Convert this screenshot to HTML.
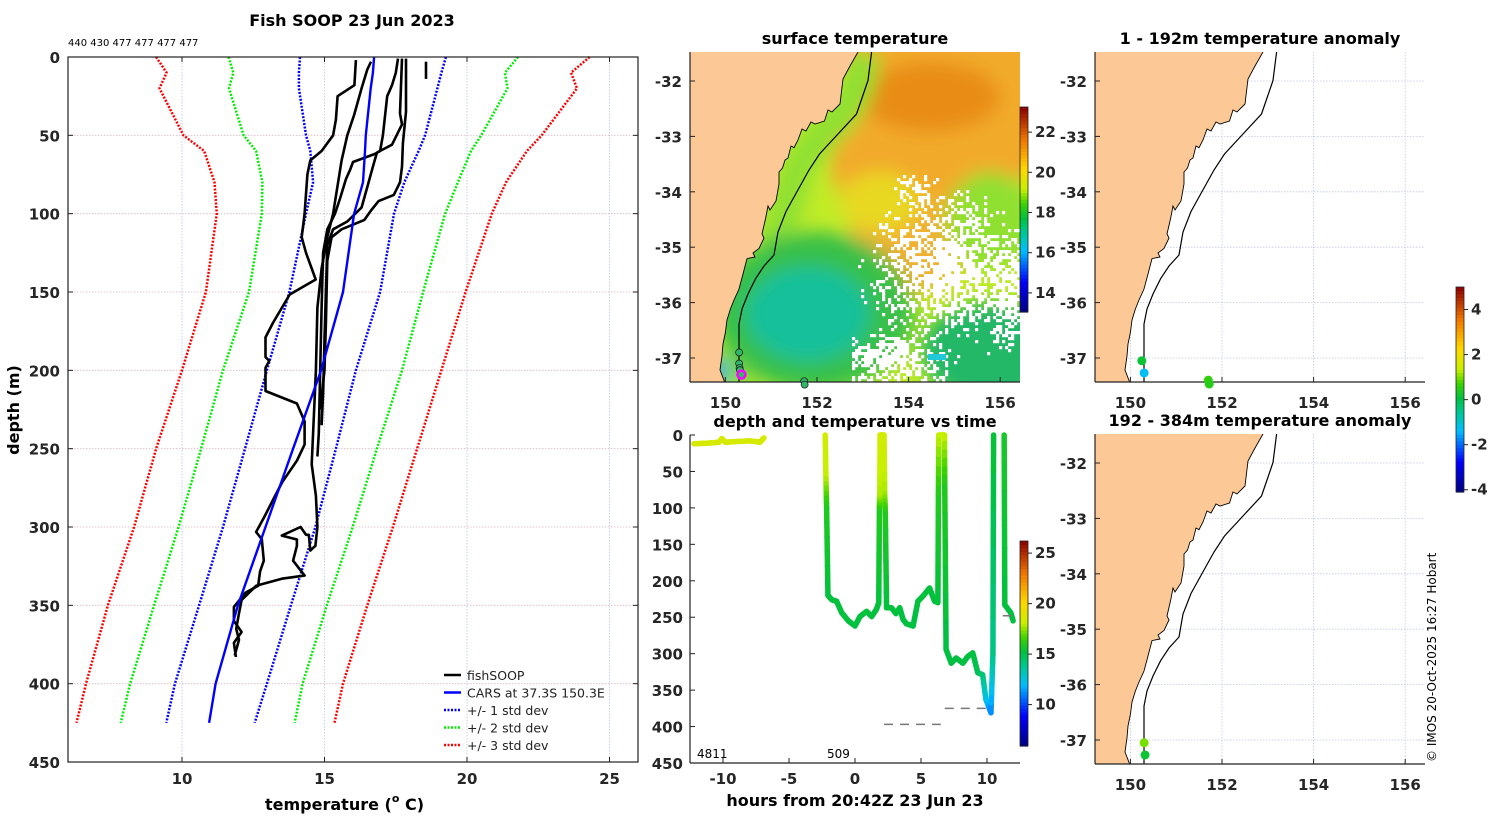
<!DOCTYPE html>
<html><head><meta charset="utf-8"><style>
html,body{margin:0;padding:0;background:#fff;}
svg{display:block;font-family:"DejaVu Sans","Liberation Sans",sans-serif;}
.tk{font-weight:bold;font-size:15px;fill:#262626;}
.ttl{font-weight:bold;font-size:16px;fill:#000;}
</style></head><body>
<svg id="fig" width="1500" height="820" viewBox="0 0 1500 820" xmlns="http://www.w3.org/2000/svg">
<defs>
<filter id="blur" x="-20%" y="-20%" width="140%" height="140%"><feGaussianBlur stdDeviation="9"/></filter>
<clipPath id="mapclip"><rect x="0" y="0" width="330" height="330"/></clipPath>
</defs>
</svg>
<script>
// ---------- profile chart data ----------
const stdDepths = [0,10,20,50,60,80,100,150,200,250,300,350,400,425];
const carsMean  = [16.74,16.7,16.62,16.45,16.42,16.35,16.04,15.65,14.88,13.9,12.93,11.96,11.18,10.95];
const std1Lo = [14.14,14.1,14.1,14.35,14.5,14.6,14.35,13.77,12.98,12.21,11.44,10.6,9.75,9.45];
const std1Hi = [19.26,19.1,18.96,18.53,18.3,17.8,17.44,16.95,16.1,15.4,14.68,13.82,12.98,12.55];
const std2Lo = [11.63,11.8,11.65,12.16,12.6,12.82,12.8,12.35,11.44,10.67,9.88,9.02,8.18,7.85];
const std2Hi = [21.79,21.33,21.42,20.5,20.14,19.68,19.23,18.46,17.72,16.84,15.99,15.08,14.23,13.95];
const std3Lo = [9.09,9.46,9.21,10.05,10.78,11.14,11.22,10.84,10.0,9.09,8.32,7.4,6.63,6.3];
const std3Hi = [24.3,23.65,23.86,22.62,22.1,21.37,20.87,19.95,19.1,18.25,17.4,16.5,15.65,15.35];
const fishA = [[16.1,2],[16.05,18],[15.46,25],[15.4,40],[15.3,50],[14.9,60],[14.5,66],[14.4,75],[14.3,100],[14.2,115],[14.35,125],[14.69,142],[13.78,151.6],[13.19,169.8],[12.93,179],[12.93,191.5],[13.06,193.9],[12.93,198.4],[12.93,213.2],[14.03,221.2],[14.3,232.6],[14.3,247.4],[14.03,257.7],[13.52,271.3],[13.19,282.8],[12.87,294.2],[12.6,303.2],[12.8,307.8],[12.87,321.5],[12.74,328.3],[12.67,337.5],[12.22,342],[11.82,351],[11.82,360],[12.09,367],[11.82,374],[11.89,383]];
const fishB = [[16.63,3],[16.5,8],[16.3,20],[16.04,37],[15.8,50],[15.6,66],[15.3,100],[15.1,115],[14.9,135],[14.75,160],[14.7,200],[14.6,240],[14.55,260],[14.7,280],[14.75,300],[14.68,312],[14.5,315],[14.45,305],[14.35,305],[14.16,300],[13.5,305.5],[14.03,308],[14.03,312],[13.9,321.5],[14.3,331],[13.5,333],[12.6,337.5],[12.09,346.6],[12.0,355],[11.9,365],[12.0,372],[11.85,382]];
const fishC = [[17.58,1],[17.5,10],[17.37,18],[17.2,25],[17.05,50],[16.95,60],[16.75,62],[16.0,67],[15.9,72],[15.75,78],[15.55,90],[15.37,100],[15.1,110],[14.95,125],[14.9,160],[14.85,200],[14.8,240],[14.75,255]];
const fishD = [[17.72,1],[17.68,20],[17.65,36],[17.72,43],[17.37,56],[16.84,61],[16.7,70],[16.5,83],[16.3,96],[15.8,105],[15.3,110],[15.1,120],[15.05,150],[15.0,180],[14.95,215],[14.9,235]];
const fishE = [[17.86,1],[17.86,35],[17.75,55],[17.72,70],[17.65,80],[17.43,88],[16.9,92],[16.63,98],[16.4,104],[15.6,110],[15.25,115],[15.1,130],[15.05,170],[15.0,200],[14.85,225]];
const fishF = [[18.56,3],[18.56,14]];
const xTicksProf = [10,15,20,25];
const yTicksProf = [0,50,100,150,200,250,300,350,400,450];

// ---------- time plot data ----------
const surfHours = [-12.2,-11.5,-11,-10.3,-10.1,-9.8,-9,-8,-7.5,-7.2,-6.9];
const surfDepth = [12,11.5,11,10,5,10,9,8,9,10,4];
const surfTemp  = [18.6,18.6,18.6,18.6,18.6,18.6,18.6,18.6,18.6,18.6,18.6];
const profHours = [-2.26,-2.2,-2.15,-2.05,-1.76,-1.4,-1.0,-0.5,0,0.38,0.88,1.26,1.63,1.8,1.85,1.88,1.9,2.2,2.25,2.3,2.39,2.76,3.1,3.39,3.64,3.9,4.4,4.77,5.15,5.65,6.03,6.28,6.32,6.35,6.78,6.8,6.9,7.29,7.66,8.17,8.54,8.92,9.3,9.67,9.92,10.3,10.45,10.5];
const profDepth = [0,60,100,220,226,228,244,255,262,249,242,249,239,230,100,80,0,0,80,110,237,237,245,237,253,259,262,228,221,210,228,230,80,0,0,70,294,313,306,313,304,299,326,329,363,381,300,0];
const profTemp  = [18.4,18,16,15.3,15.3,15.3,15.3,15.3,15.2,15.3,15.3,15.3,15.3,15.3,16,17.8,18.5,18.5,17.8,16,15.3,15.3,15.3,15.3,15.2,15.2,15.2,15.3,15.3,15.3,15.3,15.3,16,18,18.2,16,15.2,15.2,15.2,15.2,15.2,15.2,15,14.5,12.5,11,14,15.5];
const lastHours = [11.3,11.35,11.8,11.98];
const lastDepth = [0,233,244,255];
const lastTemp  = [15.8,15.3,15.2,15.3];
const xTicksTime = [-10,-5,0,5,10];
const yTicksTime = [0,50,100,150,200,250,300,350,400,450];

// ---------- map data ----------
const lonTicks = [150,152,154,156];
const latTicks = [-32,-33,-34,-35,-36,-37];
const anomLon1 = [150.25,150.3,151.7,151.72];
const anomLat1 = [-37.05,-37.27,-37.4,-37.47];
const anomVal1 = [0.2,-1.3,0.6,0.5];
const anomLon2 = [150.3,150.32];
const anomLat2 = [-37.05,-37.27];
const anomVal2 = [1.0,0.2];
const trackLon = [150.3,150.3,150.31,150.32,150.35,151.72,151.73];
const trackLat = [-36.9,-37.1,-37.18,-37.22,-37.3,-37.42,-37.48];

const NS='http://www.w3.org/2000/svg';
const svg=document.getElementById('fig');
function el(tag,attrs,parent){const e=document.createElementNS(NS,tag);for(const k in attrs)e.setAttribute(k,attrs[k]);(parent||svg).appendChild(e);return e;}
function txt(s,x,y,attrs,parent){const t=el('text',Object.assign({x:x,y:y},attrs),parent);t.textContent=s;return t;}

const cstops=[[0,[0,0,127]],[0.15,[0,0,255]],[0.3,[0,190,255]],[0.38,[0,200,160]],[0.46,[0,192,64]],[0.53,[60,210,0]],[0.6,[200,240,0]],[0.7,[255,215,0]],[0.84,[240,120,0]],[1,[140,0,0]]];
function cmap(t){t=Math.max(0,Math.min(1,t));for(let i=1;i<cstops.length;i++){if(t<=cstops[i][0]){const a=cstops[i-1],b=cstops[i];const f=(t-a[0])/(b[0]-a[0]);const c=a[1].map((v,j)=>Math.round(v+(b[1][j]-v)*f));return 'rgb('+c.join(',')+')';}}return 'rgb(140,0,0)';}
function colorbar(x,y,w,h,vmin,vmax,ticks,name){
  const g=el('g',{});
  
  
  const n=60;
  for(let i=0;i<n;i++){el('rect',{x:x,y:y+h-(i+1)*h/n,width:w,height:h/n+0.6,fill:cmap((i+0.5)/n)},g);}
  el('rect',{x:x,y:y,width:w,height:h,fill:'none',stroke:'#222','stroke-width':0.8},g);
  ticks.forEach(v=>{const yy=y+h-(v-vmin)/(vmax-vmin)*h;el('line',{x1:x+w,x2:x+w+4,y1:yy,y2:yy,stroke:'#222'},g);txt(String(v),x+w+7,yy+5,{'class':'tk','font-size':'13'},g);});
}

// ================= PROFILE CHART =================
const P={x0:68,x1:638,y0:57,y1:762,tmin:6,tmax:26,dmax:450};
const px=t=>P.x0+(t-P.tmin)/(P.tmax-P.tmin)*(P.x1-P.x0);
const py=d=>P.y0+d/P.dmax*(P.y1-P.y0);
const gp=el('g',{});


txt('Fish SOOP 23 Jun 2023',352,26,{'class':'ttl','text-anchor':'middle','font-size':'17'},gp);
txt('440 430 477 477 477 477',68,46,{'font-size':'10','fill':'#000'},gp);
xTicksProf.forEach(v=>{const l=el('line',{x1:px(v),x2:px(v),y1:P.y0,y2:P.y1,stroke:'#b8c4e8','stroke-width':0.8,'stroke-dasharray':'1.5,1.5'},gp);});
yTicksProf.forEach(v=>{if(v>0&&v<450){const l=el('line',{x1:P.x0,x2:P.x1,y1:py(v),y2:py(v),stroke:'#d8b8c8','stroke-width':0.8,'stroke-dasharray':'1.5,1.5'},gp);}});
function lineFrom(ts,ds,color,dash,w,name){
  const pts=ts.map((t,i)=>px(t).toFixed(1)+','+py(ds[i]).toFixed(1)).join(' ');
  const p=el('polyline',{points:pts,fill:'none',stroke:color,'stroke-width':w,'stroke-dasharray':dash||'none','stroke-linejoin':'round'},gp);
  
  
}
lineFrom(std3Lo,stdDepths,'#ff0000','2,1.5',2.5,'std3-lower-line');
lineFrom(std3Hi,stdDepths,'#ff0000','2,1.5',2.5,'std3-upper-line');
lineFrom(std2Lo,stdDepths,'#00ee00','2,1.5',2.5,'std2-lower-line');
lineFrom(std2Hi,stdDepths,'#00ee00','2,1.5',2.5,'std2-upper-line');
lineFrom(std1Lo,stdDepths,'#0000ff','2,1.5',2.5,'std1-lower-line');
lineFrom(std1Hi,stdDepths,'#0000ff','2,1.5',2.5,'std1-upper-line');
[fishA,fishB,fishC,fishD,fishE,fishF].forEach((f,i)=>{
  lineFrom(f.map(p=>p[0]),f.map(p=>p[1]),'#000','none',2.6,'fishsoop-profile-'+(i+1));
});
lineFrom(carsMean,stdDepths,'#0000ff','none',2.4,'cars-mean-line');
el('rect',{x:P.x0,y:P.y0,width:P.x1-P.x0,height:P.y1-P.y0,fill:'none',stroke:'#222','stroke-width':1.2},gp);
xTicksProf.forEach(v=>{const x=px(v);el('line',{x1:x,x2:x,y1:P.y1,y2:P.y1-5,stroke:'#222'},gp);el('line',{x1:x,x2:x,y1:P.y0,y2:P.y0+5,stroke:'#222'},gp);txt(String(v),x,784,{'class':'tk','text-anchor':'middle'},gp);});
yTicksProf.forEach(v=>{const y=py(v);el('line',{x1:P.x0,x2:P.x0+5,y1:y,y2:y,stroke:'#222'},gp);el('line',{x1:P.x1,x2:P.x1-5,y1:y,y2:y,stroke:'#222'},gp);txt(String(v),60,y+6,{'class':'tk','text-anchor':'end','font-size':'16'},gp);});
const xt=el('text',{x:265,y:810,'class':'ttl'},gp);

xt.innerHTML='temperature (<tspan font-size="11" dy="-8">o</tspan><tspan dy="8"> C)</tspan>';
const yt=txt('depth (m)',0,0,{'class':'ttl','text-anchor':'middle','transform':'translate(19,410) rotate(-90)'},gp);

const lg=el('g',{});


const legItems=[['fishSOOP','#000','none'],['CARS at 37.3S 150.3E','#0000ff','none'],['+/- 1 std dev','#0000ff','2,1.5'],['+/- 2 std dev','#00ee00','2,1.5'],['+/- 3 std dev','#ff0000','2,1.5']];
legItems.forEach((it,i)=>{const y=675+i*17.5;const e=el('g',{},lg);el('line',{x1:444,x2:461,y1:y,y2:y,stroke:it[1],'stroke-width':2.5,'stroke-dasharray':it[2]},e);txt(it[0],467,y+5,{'font-size':'12.5','fill':'#222'},e);});

// ================= MAPS =================
const M={lon0:150,px0:35.4,pxPerLon:45.8,lat0:-32,py0:29,pxPerLat:55.4};
const mx=lon=>M.px0+(lon-M.lon0)*M.pxPerLon;
const my=lat=>M.py0+(M.lat0-lat)*M.pxPerLat;
const coastPts='168,0 160,14 153,27 150,52 142,60 138,58 134.5,69 125,72 121,70 116,79 112,77 108,88 104,95.7 101,94 98,106 95,108 92.5,116 89,120 89,132 86,149 80,158 78,154 75.7,166 72,182 74,186 69,196.5 63,201 65,205 57,206.6 53,222 49,237 44,248 40.4,257 37,268 35.4,280.5 33,292 32,304 30,318 35.4,332';
const contourPts='181.6,0 178,28.5 172,46 166.5,62 148,82 129.5,102 119,118 109,136 96,159.5 88,180 84,203 74,214 65.6,226.7 58,242 52,257 49,272 49,287 49,310 49,332';
function mapFrame(ox,oy,name,title){
  const g=el('g',{transform:'translate('+ox+','+oy+')'});
  
  
  txt(title,165,-8,{'class':'ttl','text-anchor':'middle'},g);
  return g;
}
function mapOverlay(g,grid){
  if(grid){
    lonTicks.forEach(v=>{el('line',{x1:mx(v),x2:mx(v),y1:0,y2:330,stroke:'#c0c8e8','stroke-width':0.8,'stroke-dasharray':'1.5,1.5'},g);});
    latTicks.forEach(v=>{el('line',{x1:0,x2:330,y1:my(v),y2:my(v),stroke:'#c0c8e8','stroke-width':0.8,'stroke-dasharray':'1.5,1.5'},g);});
  }
  const cg=el('g',{'clip-path':'url(#mapclip)'},g);
  const land=el('polygon',{points:'0,0 '+coastPts+' 0,332',fill:'#fcc996'},cg);
  
  
  el('polyline',{points:coastPts,fill:'none',stroke:'#000','stroke-width':0.9},cg);
  const c=el('polyline',{points:contourPts,fill:'none',stroke:'#000','stroke-width':1.2},cg);
  
  
  el('line',{x1:0,x2:0,y1:0,y2:330,stroke:'#222','stroke-width':1.2},g);
  el('line',{x1:0,x2:330,y1:330,y2:330,stroke:'#222','stroke-width':1.2},g);
  lonTicks.forEach(v=>{el('line',{x1:mx(v),x2:mx(v),y1:330,y2:325,stroke:'#222'},g);txt(String(v),mx(v),356,{'class':'tk','text-anchor':'middle','font-size':'16'},g);});
  latTicks.forEach(v=>{el('line',{x1:0,x2:5,y1:my(v),y2:my(v),stroke:'#222'},g);txt(String(v),-8,my(v)+6,{'class':'tk','text-anchor':'end','font-size':'16'},g);});
}
const gs=mapFrame(690,52,'surface-temperature-map','surface temperature');
const sst=el('g',{'clip-path':'url(#mapclip)'},gs);
el('rect',{x:0,y:0,width:330,height:330,fill:'#c0ec28'},sst);
const bl=el('g',{filter:'url(#blur)'},sst);
el('polygon',{points:'150,-20 350,-20 350,120 300,140 260,200 220,250 190,215 160,170 140,120 150,60',fill:'#f2aa2a'},bl);
el('ellipse',{cx:240,cy:45,rx:70,ry:35,fill:'#e88c12'},bl);
el('ellipse',{cx:220,cy:190,rx:60,ry:50,fill:'#f0b030'},bl);
el('ellipse',{cx:190,cy:150,rx:40,ry:30,fill:'#e8d820'},bl);
el('ellipse',{cx:300,cy:170,rx:45,ry:50,fill:'#90e030'},bl);
el('polyline',{points:'175,0 165,40 150,65 125,90 105,120 95,160 80,200 65,230 55,260 50,300 50,340',fill:'none',stroke:'#90e030','stroke-width':34},bl);
el('ellipse',{cx:125,cy:260,rx:100,ry:80,fill:'#38c048'},bl);
el('ellipse',{cx:118,cy:262,rx:62,ry:48,fill:'#18c09a'},bl);
el('ellipse',{cx:300,cy:300,rx:70,ry:50,fill:'#20b868'},bl);
el('ellipse',{cx:25,cy:320,rx:15,ry:12,fill:'#10a8e0'},bl);
// decorative cloud speckle (deterministic)
const wg=el('g',{fill:'#fff'},sst);
function hsh(i,j){let h=(i*374761393+j*668265263)|0;h=(h^(h>>>13))*1274126177|0;return ((h^(h>>>16))>>>0)/4294967295;}
for(let i=0;i<110;i++){for(let j=0;j<110;j++){
  const x=i*3,y=j*3;if(x<160||y<120)continue;
  let p=0;
  const d1=Math.hypot((x-255)/55,(y-215)/50);p=Math.max(p,1.0-0.6*d1);
  const d2=Math.hypot((x-200)/45,(y-305)/22);p=Math.max(p,0.95-0.6*d2);
  const d3=Math.hypot((x-315)/25,(y-235)/50);p=Math.max(p,0.9-0.6*d3);
  const d4=Math.hypot((x-225)/25,(y-140)/30);p=Math.max(p,0.45-0.4*d4);
  if(hsh(i,j)<p)el('rect',{x:x,y:y,width:3.2,height:3.2},wg);
}}
el('rect',{x:238,y:302,width:18,height:6,fill:'#20c8d8'},sst);
mapOverlay(gs,false);
const trk=el('g',{},gs);


trackLon.forEach((lo,i)=>{el('circle',{cx:mx(lo),cy:my(trackLat[i]),r:3.5,fill:'#30b868',stroke:'#222','stroke-width':0.8},trk);});
el('circle',{cx:mx(150.35),cy:my(-37.3),r:4,fill:'none',stroke:'#ff00ff','stroke-width':2.5},trk);
colorbar(1020,107,8,205,13.05,23.25,[14,16,18,20,22],'sst-colorbar');

function anomMap(ox,oy,name,title,lons,lats,vals){
  const g=mapFrame(ox,oy,name,title);
  mapOverlay(g,true);
  lons.forEach((lo,i)=>{const c=el('circle',{cx:mx(lo),cy:my(lats[i]),r:4.5,fill:cmap((vals[i]+4.1)/9.1)},g);});
}
anomMap(1095,52,'anomaly-map-1-192m','1 - 192m temperature anomaly',anomLon1,anomLat1,anomVal1);
anomMap(1095,434,'anomaly-map-192-384m','192 - 384m temperature anomaly',anomLon2,anomLat2,anomVal2);
colorbar(1456,287,8,205,-4.1,5.0,[-4,-2,0,2,4],'anomaly-colorbar');

// ================= TIME PLOT =================
const T={x0:690,x1:1020,y0:435,y1:763,hmin:-12.5,hmax:12.5,dmax:450,tmin:5.9,tmax:26.2};
const tx=h=>T.x0+(h-T.hmin)/(T.hmax-T.hmin)*(T.x1-T.x0);
const ty=d=>T.y0+d/T.dmax*(T.y1-T.y0);
const gt=el('g',{});


txt('depth and temperature vs time',855,427,{'class':'ttl','text-anchor':'middle'},gt);
function drawTrack(hs,ds,ts,name){
  const g=el('g',{},gt);
  
  
  for(let i=0;i<hs.length-1;i++){
    const n=6;
    for(let k=0;k<n;k++){
      const f0=k/n,f1=(k+1)/n;
      const h0=hs[i]+(hs[i+1]-hs[i])*f0,h1=hs[i]+(hs[i+1]-hs[i])*f1;
      const d0=ds[i]+(ds[i+1]-ds[i])*f0,d1=ds[i]+(ds[i+1]-ds[i])*f1;
      const tm=ts[i]+(ts[i+1]-ts[i])*(f0+f1)/2;
      el('line',{x1:tx(h0),y1:ty(d0),x2:tx(h1),y2:ty(d1),stroke:cmap((tm-T.tmin)/(T.tmax-T.tmin)),'stroke-width':5.5,'stroke-linecap':'round'},g);
    }
  }
}
drawTrack(surfHours,surfDepth,surfTemp,'surface-track');
drawTrack(profHours,profDepth,profTemp,'profile-track');
drawTrack(lastHours,lastDepth,lastTemp,'last-profile-track');
el('line',{x1:tx(2.2),x2:tx(6.5),y1:ty(397),y2:ty(397),stroke:'#777','stroke-width':1.5,'stroke-dasharray':'9,7'},gt);
el('line',{x1:tx(6.8),x2:tx(10.5),y1:ty(375),y2:ty(375),stroke:'#777','stroke-width':1.5,'stroke-dasharray':'9,7'},gt);
el('line',{x1:tx(11.2),x2:tx(11.9),y1:ty(248),y2:ty(248),stroke:'#777','stroke-width':1.5},gt);
txt('4811',697,758,{'font-size':'12','fill':'#000'},gt);
txt('509',827,758,{'font-size':'12','fill':'#000'},gt);
el('line',{x1:T.x0,x2:T.x0,y1:T.y0,y2:T.y1,stroke:'#222','stroke-width':1.2},gt);
el('line',{x1:T.x0,x2:T.x1,y1:T.y1,y2:T.y1,stroke:'#222','stroke-width':1.2},gt);
xTicksTime.forEach(v=>{el('line',{x1:tx(v),x2:tx(v),y1:T.y1,y2:T.y1-5,stroke:'#222'},gt);txt(String(v),tx(v),784,{'class':'tk','text-anchor':'middle','font-size':'16'},gt);});
yTicksTime.forEach(v=>{el('line',{x1:T.x0,x2:T.x0+5,y1:ty(v),y2:ty(v),stroke:'#222'},gt);txt(String(v),683,ty(v)+6,{'class':'tk','text-anchor':'end','font-size':'16'},gt);});
const tt=txt('hours from 20:42Z 23 Jun 23',855,806,{'class':'ttl','text-anchor':'middle'},gt);

colorbar(1020,541,8,205,T.tmin,T.tmax,[10,15,20,25],'time-temp-colorbar');

const cp=txt('© IMOS 20-Oct-2025 16:27 Hobart',0,0,{'font-size':'12','fill':'#000','transform':'translate(1436,762) rotate(-90)'});


</script>
</body></html>
